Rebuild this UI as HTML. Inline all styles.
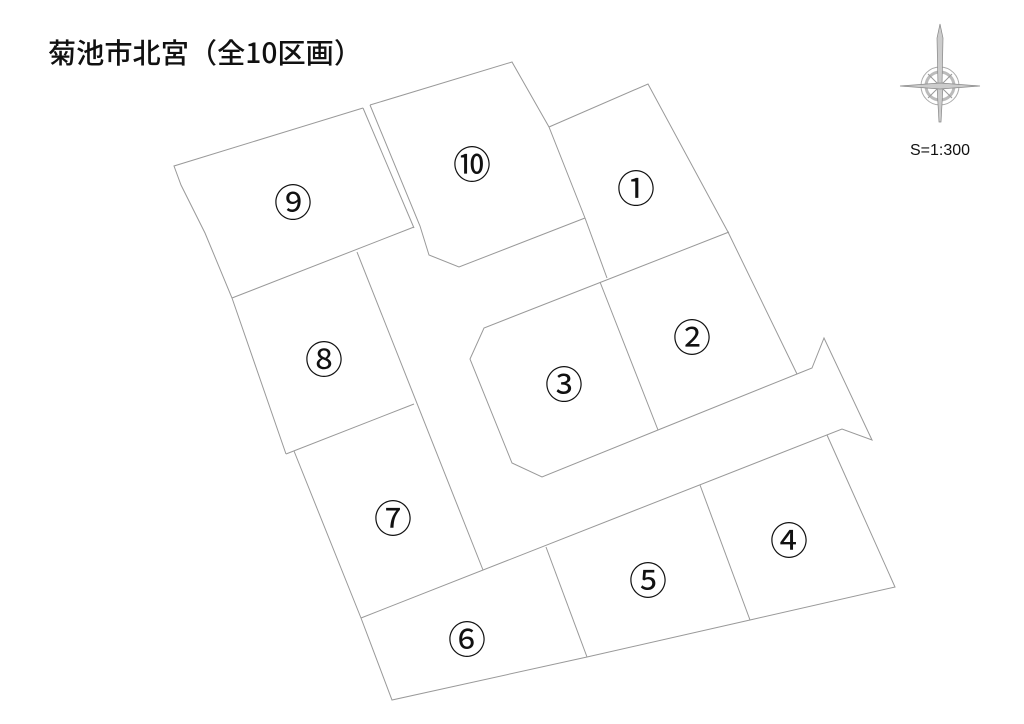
<!DOCTYPE html>
<html><head><meta charset="utf-8"><style>
html,body{margin:0;padding:0;background:#fff;}
svg{display:block;}
</style></head><body>
<svg width="1024" height="724" viewBox="0 0 1024 724" xmlns="http://www.w3.org/2000/svg">
<rect width="1024" height="724" fill="#fff"/>
<text x="48" y="63" font-family="'Noto Sans CJK JP',sans-serif" font-weight="500" font-size="28" textLength="314" lengthAdjust="spacingAndGlyphs" fill="#111">菊池市北宮（全10区画）</text>
<g fill="none" stroke="#999" stroke-width="1">
<polyline points="363,108 174,166 181,185 205,233 232,298 286,454"/>
<line x1="232" y1="298" x2="414" y2="227"/>
<line x1="363" y1="108" x2="414" y2="228"/>
<polyline points="370,105 512,62 549,127 585,218"/>
<polyline points="370,105 420,226 429,255 459,267 585,218"/>
<polyline points="549,127 648,84 728,232 797,374"/>
<polyline points="585,218 607,278"/>
<polyline points="729,232 484,328 470,359 512,463 542,477 658,430 797,374 812,368 824,338 872,440 842,429 361,618"/>
<line x1="600" y1="282" x2="658" y2="430"/>
<line x1="357" y1="252" x2="483" y2="570"/>
<line x1="286" y1="454" x2="414" y2="404"/>
<polyline points="294,451 361,618 392,700 587,657 750,620 895,587 827,435"/>
<line x1="546" y1="547" x2="587" y2="657"/>
<line x1="700" y1="485" x2="750" y2="620"/>
</g>
<g font-family="'Noto Sans CJK JP',sans-serif" font-size="38" fill="#111" text-anchor="middle" dominant-baseline="central">
<text x="636" y="186">①</text>
<text x="692" y="335">②</text>
<text x="564" y="382">③</text>
<text x="789" y="538">④</text>
<text x="648" y="578">⑤</text>
<text x="467" y="637">⑥</text>
<text x="393" y="516">⑦</text>
<text x="324" y="357">⑧</text>
<text x="293" y="200">⑨</text>
<text x="472" y="162">⑩</text>
</g>
<g stroke="#999" fill="none" stroke-width="1">
<circle cx="940" cy="86" r="19" stroke="#aaa"/>
<circle cx="940" cy="86" r="14" stroke="#bbb" stroke-width="3"/>
<line x1="928" y1="74" x2="952" y2="98"/>
<line x1="952" y1="74" x2="928" y2="98"/>
</g>
<g fill="#ccc" stroke="#888" stroke-width="0.7">
<polygon points="940,24 943,38 942,86 938,86 937,38"/>
<polygon points="940,86 943,86 941,122 939,122 937,86"/>
<polygon points="900,86 940,83 980,86 940,89"/>
</g>
<text x="940" y="155" font-family="'Liberation Sans',sans-serif" font-size="16" fill="#111" text-anchor="middle">S=1:300</text>
</svg>
</body></html>
